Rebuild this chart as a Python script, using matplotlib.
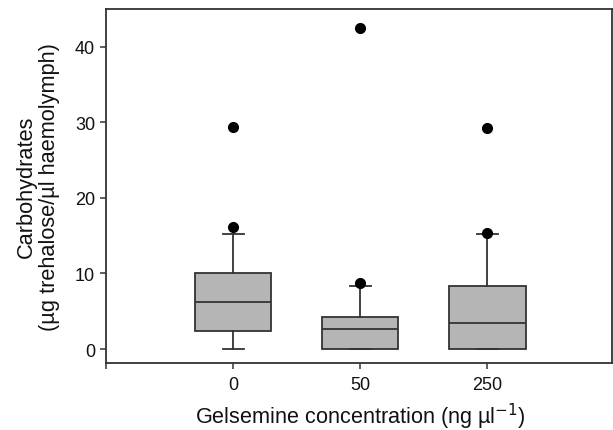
import matplotlib
matplotlib.use("Agg")
import matplotlib.pyplot as plt

plt.rcParams['font.family'] = ['Liberation Sans', 'DejaVu Sans']

# box statistics
groups = ["0", "50", "250"]
whislo = [0.0, 0.0, 0.0]
q1 = [2.4, 0.0, 0.0]
med = [6.25, 2.6, 3.4]
q3 = [10.0, 4.2, 8.4]
whishi = [15.2, 8.4, 15.2]
outliers = [[16.2, 29.4], [8.7, 42.5], [15.3, 29.2]]

stats = []
for i, g in enumerate(groups):
    stats.append(dict(label=g, whislo=whislo[i], q1=q1[i], med=med[i],
                      q3=q3[i], whishi=whishi[i], fliers=outliers[i]))

fig = plt.figure(figsize=(6.13, 4.31), dpi=100)
ax = fig.add_axes([106 / 613, 1 - 364 / 431, 506 / 613, 354 / 431])

lc = "#333333"
ax.bxp(stats, positions=[0, 1, 2], widths=0.6, capwidths=0.165,
       patch_artist=True, showfliers=True,
       boxprops=dict(facecolor="#b5b5b5", edgecolor=lc, linewidth=1.3),
       medianprops=dict(color=lc, linewidth=1.3),
       whiskerprops=dict(color=lc, linewidth=1.3),
       capprops=dict(color=lc, linewidth=1.3),
       flierprops=dict(marker="o", markerfacecolor="black",
                       markeredgecolor="black", markersize=7))

xlo, xhi = -1.0, 2.98
ax.set_xlim(xlo, xhi)
ax.set_ylim(-1.85, 45.0)
ax.set_yticks([0, 10, 20, 30, 40])
ax.set_xticks([xlo, 0, 1, 2])
ax.set_xticklabels([""] + groups)

for s in ax.spines.values():
    s.set_color(lc)
    s.set_linewidth(1.3)

ax.tick_params(axis="both", direction="out", length=4.3, width=1.1,
               color=lc, labelsize=13, labelcolor="#111111")
ax.tick_params(axis="y", pad=3.5)
ax.tick_params(axis="x", pad=5)

ax.set_ylabel("Carbohydrates\n(µg trehalose/µl haemolymph)", fontsize=15.7,
              color="#111111", linespacing=1.15)
ax.yaxis.set_label_coords(-0.091, 0.5)
ax.set_xlabel("Gelsemine concentration (ng µl$^{-1}$)", fontsize=15.6,
              color="#111111")
ax.xaxis.set_label_coords(0.502, -0.106)

fig.savefig("out.png", dpi=100)
